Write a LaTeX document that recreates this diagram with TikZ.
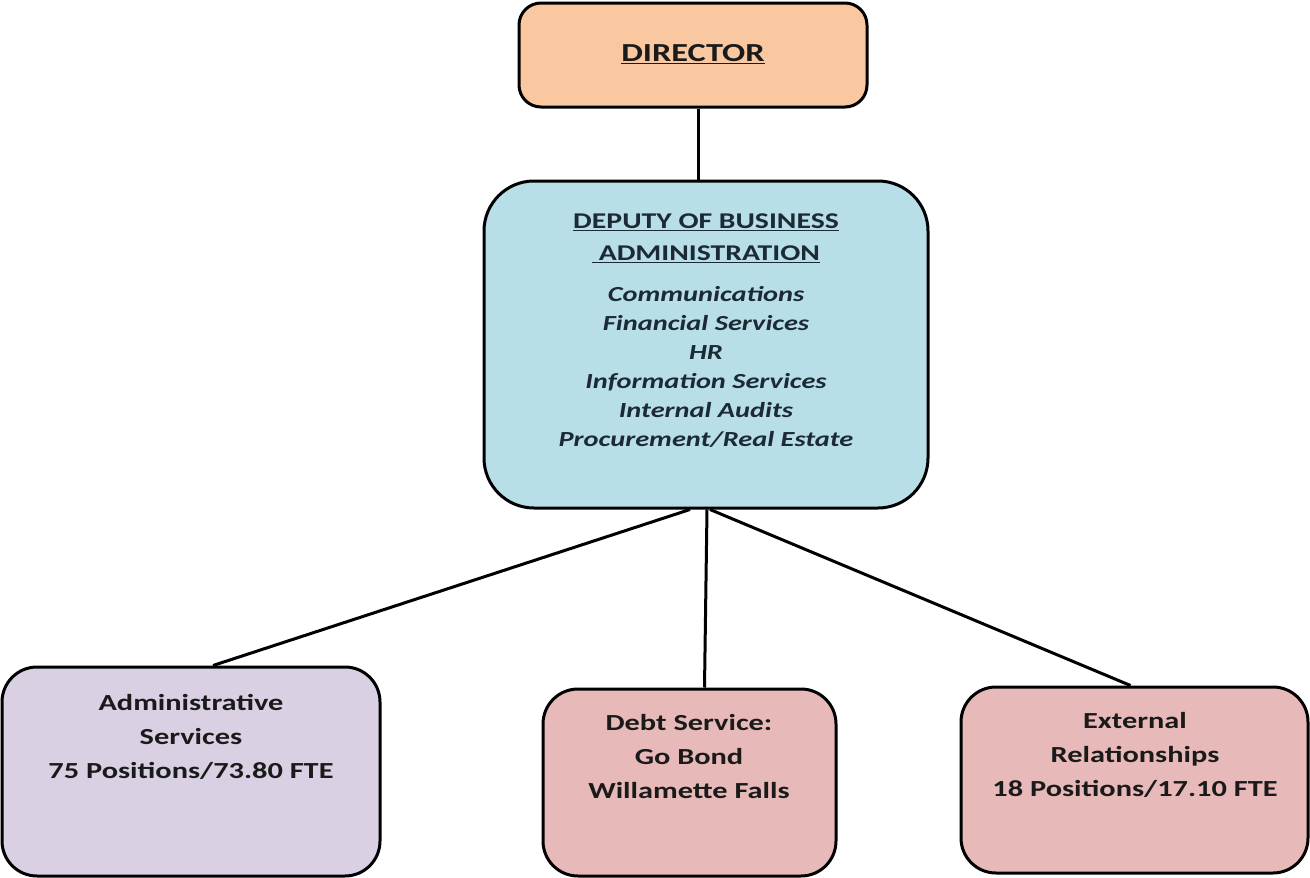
\documentclass[tikz,border=0pt]{standalone}
\usepackage{fontspec}
\setmainfont{Carlito}
\usetikzlibrary{calc}
\definecolor{peach}{HTML}{FAC8A0}
\definecolor{skyblue}{HTML}{B8DEE8}
\definecolor{lavender}{HTML}{D9D0E4}
\definecolor{rose}{HTML}{E8B9B9}
\definecolor{ink}{HTML}{1A1A1A}
\definecolor{navyink}{HTML}{1B2A35}
% widened text block, centred lines
\newcommand{\wblock}[1]{\scalebox{1.32}[1]{\begin{tabular}{@{}c@{}}#1\end{tabular}}}

\begin{document}
\begin{tikzpicture}[x=1pt,y=-1pt,
  box/.style={draw=black, line width=3pt, rectangle, rounded corners=#1, inner sep=0pt},
  box/.default=30pt,
  label text/.style={inner sep=0pt, text=ink},
  link/.style={draw=black, line width=3pt}]
\useasboundingbox (0,0) rectangle (1310,878);

% boxes
\node[box=22pt, fill=peach, minimum width=348pt, minimum height=104pt] (dir) at (693,55) {};
\node[box=50pt, fill=skyblue, minimum width=444pt, minimum height=327pt] (dep) at (706,344.5) {};
\node[box=35pt, fill=lavender, minimum width=378pt, minimum height=209pt] (adm) at (191,771.5) {};
\node[box=35pt, fill=rose, minimum width=293pt, minimum height=187pt] (debt) at (689.5,782.5) {};
\node[box=35pt, fill=rose, minimum width=347pt, minimum height=186pt] (ext) at (1134.5,780) {};

% texts
\node[label text, font=\fontsize{26}{32}\selectfont\bfseries] (dirt) at (693,55) {\wblock{\underline{DIRECTOR}}};
\node[label text, text=navyink, font=\fontsize{22.5}{32}\selectfont\bfseries] (dept) at (706,238) {\wblock{\underline{DEPUTY OF BUSINESS}\\\underline{\ ADMINISTRATION}}};
\node[label text, text=navyink, font=\fontsize{21.5}{29}\selectfont\bfseries\itshape] (depl) at (706,368.5) {\wblock{Communications\\Financial Services\\HR\\Information Services\\Internal Audits\\Procurement/Real Estate}};
\node[label text, font=\fontsize{23}{34}\selectfont\bfseries] (admt) at (191,738) {\wblock{Administrative\\Services\\75 Positions/73.80 FTE}};
\node[label text, font=\fontsize{23}{34}\selectfont\bfseries] (debtt) at (689,758) {\wblock{Debt Service:\\Go Bond\\Willamette Falls}};
\node[label text, font=\fontsize{23}{34}\selectfont\bfseries] (extt) at (1135,756) {\wblock{External\\Relationships\\18 Positions/17.10 FTE}};

% connectors
\draw[link] ([xshift=5pt]dir.south) -- ([xshift=-8pt]dep.north);
\draw[link] ([xshift=-16pt]dep.south) -- ([xshift=22pt]adm.north);
\draw[link] ([xshift=1pt]dep.south) -- ([xshift=15pt]debt.north);
\draw[link] ([xshift=4pt]dep.south) -- ([xshift=-4pt]ext.north);
\end{tikzpicture}
\end{document}
